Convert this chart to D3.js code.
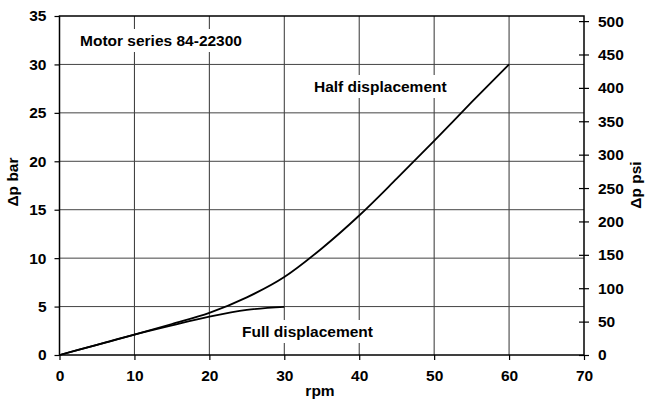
<!DOCTYPE html>
<html><head><meta charset="utf-8">
<script src="https://cdn.jsdelivr.net/npm/d3@7"></script>
<style>
body{margin:0;background:#fff;}
text{font-family:"Liberation Sans",Arial,sans-serif;font-weight:bold;}
</style></head>
<body><svg id="c" width="645" height="400"></svg>
<script>
const rpmTicks = [0,10,20,30,40,50,60,70];
const barTicks = [0,5,10,15,20,25,30,35];
const psiTicks = [0,50,100,150,200,250,300,350,400,450,500];
const fullRpm = [0,5,10,15,20,25,30];
const fullBar = [0,1.05,2.1,3.05,3.95,4.65,4.97];
const halfRpm = [0,5,10,15,20,25,30,35,40,45,50,55,60];
const halfBar = [0,1.05,2.1,3.2,4.35,5.95,8.05,11.0,14.4,18.2,22.1,26.1,30];
const barToPsi = 14.5038;

const svg = d3.select("#c");
const L=59.5, R=584, T=16, B=355;
const fs = "15.5px";
const x = d3.scaleLinear().domain([0,70]).range([L,R]);
const y = d3.scaleLinear().domain([0,35]).range([B,T]);
const y2 = d3.scaleLinear().domain([0,35*barToPsi]).range([B,T]);

// grid
const g = svg.append("g");
g.selectAll(".vg").data(rpmTicks.filter(d=>d>0&&d<70)).join("line")
 .attr("x1",d=>x(d)).attr("x2",d=>x(d)).attr("y1",T).attr("y2",B)
 .attr("stroke","#333").attr("stroke-width",1);
g.selectAll(".hg").data(barTicks.filter(d=>d>0&&d<35)).join("line")
 .attr("y1",d=>y(d)).attr("y2",d=>y(d)).attr("x1",L).attr("x2",R)
 .attr("stroke","#444").attr("stroke-width",1);

// axes
const ax = d3.axisBottom(x).tickValues(rpmTicks).tickSize(5).tickPadding(10);
const axg = svg.append("g").attr("transform",`translate(0,${B})`).call(ax);
const ay = d3.axisLeft(y).tickValues(barTicks).tickSize(5).tickPadding(8);
const ayg = svg.append("g").attr("transform",`translate(${L},0)`).call(ay);
const ay2 = d3.axisRight(y2).tickValues(psiTicks).tickSize(5).tickPadding(9);
const ay2g = svg.append("g").attr("transform",`translate(${R},0)`).call(ay2);
ay2g.selectAll(".tick line").attr("x1",-5);
[axg,ayg,ay2g].forEach(a=>{
  a.select(".domain").remove();
  a.selectAll(".tick line").attr("stroke","#000").attr("stroke-width",1.2);
  a.selectAll("text").attr("font-size",fs).attr("fill","#000")
   .attr("font-family","'Liberation Sans',Arial,sans-serif").attr("font-weight","bold");
});
// frame
svg.append("rect").attr("x",L).attr("y",T).attr("width",R-L).attr("height",B-T)
 .attr("fill","none").attr("stroke","#000").attr("stroke-width",1.5);

// labels with white background
function label(txt,lx,ly){
  const t = svg.append("text").attr("x",lx).attr("y",ly).attr("font-size",fs).attr("fill","#000").text(txt);
  const bb = t.node().getBBox();
  svg.insert("rect", () => t.node()).attr("x",bb.x-4).attr("y",bb.y-3).attr("width",bb.width+8).attr("height",bb.height+6).attr("fill","#fff");
}
label("Motor series 84-22300",80,46);
label("Half displacement",314,92);
label("Full displacement",242,337);

// curves
const line = d3.line().x(d=>x(d[0])).y(d=>y(d[1])).curve(d3.curveMonotoneX);
svg.append("path").datum(fullRpm.map((r,i)=>[r,fullBar[i]])).attr("d",line)
 .attr("fill","none").attr("stroke","#000").attr("stroke-width",1.8);
svg.append("path").datum(halfRpm.map((r,i)=>[r,halfBar[i]])).attr("d",line)
 .attr("fill","none").attr("stroke","#000").attr("stroke-width",1.8);

// axis titles
svg.append("text").attr("x",320).attr("y",396).attr("text-anchor","middle").attr("font-size",fs).text("rpm");
svg.append("text").attr("transform","translate(18,182) rotate(-90)").attr("text-anchor","middle").attr("font-size",fs).text("Δp bar");
svg.append("text").attr("transform","translate(641,185) rotate(-90)").attr("text-anchor","middle").attr("font-size",fs).text("Δp psi");
</script></body></html>
